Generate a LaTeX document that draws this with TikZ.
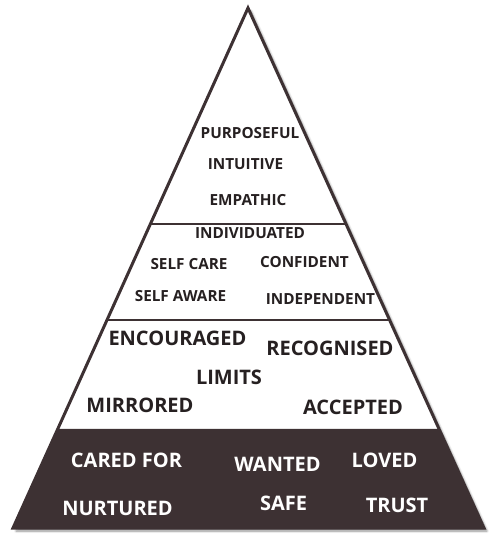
\documentclass[tikz,border=0pt]{standalone}
\usepackage{fontspec}
\setmainfont{Open Sans}
\usetikzlibrary{calc,shadows.blur}
\definecolor{bark}{RGB}{61,49,51}
\definecolor{ink}{RGB}{38,32,33}

\begin{document}
\begin{tikzpicture}[x=1pt, y=-1pt,
	label text/.style = {inner sep=0pt, anchor=base, color=ink},
	word/.style = {label text, font=\fontsize{15.3}{18}\selectfont\bfseries, yshift=-5.5pt},
	big/.style = {label text, font=\fontsize{20}{24}\selectfont\bfseries, yshift=-7.1pt},
	light/.style = {big, color=white}]
	\useasboundingbox (0,0) rectangle (497,538);
	\coordinate (top) at (248,8);
	\coordinate (L) at (13,528);
	\coordinate (R) at (484,528);
	\coordinate (A1) at ($(top)!0.4154!(L)$);
	\coordinate (B1) at ($(top)!0.4154!(R)$);
	\coordinate (A2) at ($(top)!0.6!(L)$);
	\coordinate (B2) at ($(top)!0.6!(R)$);
	\coordinate (A3) at ($(top)!0.8096!(L)$);
	\coordinate (B3) at ($(top)!0.8096!(R)$);
	% pyramid with its shadow
	\fill[white, blur shadow={shadow xshift=3pt, shadow yshift=-3pt, shadow blur steps=8, shadow opacity=45}] (top) -- (L) -- (R) -- cycle;
	\fill[bark] (A3) -- (L) -- (R) -- (B3) -- cycle;
	\draw[bark, line width=1.4pt] (A1) -- (B1) (A2) -- (B2);
	\draw[bark, line width=3pt] (top) -- (L) -- (R) -- cycle;
	% top tier
	\node[word] (purposeful) at (250,133) {PURPOSEFUL};
	\node[word] (intuitive) at (245.5,164) {INTUITIVE};
	\node[word] (empathic) at (248,200) {EMPATHIC};
	% second tier
	\node[word] (individuated) at (250,233) {INDIVIDUATED};
	\node[word] (selfcare) at (189,264) {SELF CARE};
	\node[word] (confident) at (304.5,262) {CONFIDENT};
	\node[word] (selfaware) at (180.5,296) {SELF AWARE};
	\node[word] (independent) at (320.5,299) {INDEPENDENT};
	% third tier
	\node[big] (encouraged) at (177.5,338) {ENCOURAGED};
	\node[big] (recognised) at (330,348) {RECOGNISED};
	\node[big] (limits) at (229,377) {LIMITS};
	\node[big] (mirrored) at (140,405) {MIRRORED};
	\node[big] (accepted) at (353,407) {ACCEPTED};
	% base
	\node[light] (caredfor) at (126.5,460) {CARED FOR};
	\node[light] (wanted) at (277.5,464) {WANTED};
	\node[light] (loved) at (384.5,460) {LOVED};
	\node[light] (nurtured) at (117.5,508) {NURTURED};
	\node[light] (safe) at (283.5,503) {SAFE};
	\node[light] (trust) at (397,505) {TRUST};
\end{tikzpicture}
\end{document}
